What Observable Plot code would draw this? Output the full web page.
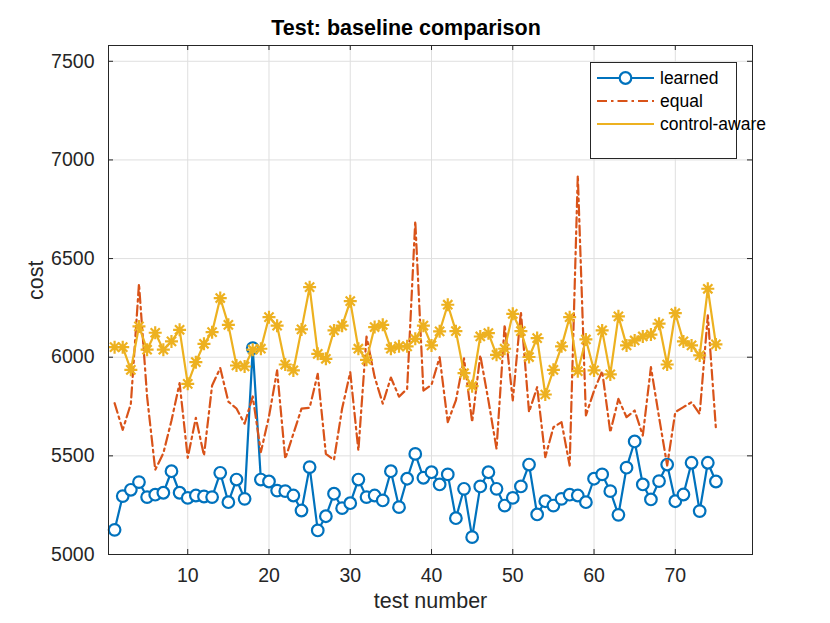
<!DOCTYPE html>
<html><head><meta charset="utf-8">
<script src="https://cdn.jsdelivr.net/npm/d3@7"></script>
<script src="https://cdn.jsdelivr.net/npm/@observablehq/plot@0.6"></script>
<style>
body{margin:0;background:#fff;}
#wrap{position:relative;width:830px;height:623px;font-family:"Liberation Sans",Arial,sans-serif;background:#fff;}
#title{position:absolute;left:84px;width:644px;top:16px;line-height:24px;text-align:center;font-weight:bold;font-size:21.5px;color:#000;}
#legend{position:absolute;left:590px;top:62px;width:145px;height:95px;border:1px solid #262626;background:#fff;}
#legend svg{overflow:visible;display:block;}
</style></head><body><div id="wrap"><div id="legend"></div><div id="title">Test: baseline comparison</div></div>
<script>
const testNumber = d3.range(1, 76);
const learned = [5125,5296,5328,5367,5291,5303,5313,5422,5313,5287,5299,5294,5291,5414,5265,5380,5282,6046,5380,5370,5324,5321,5299,5223,5443,5122,5194,5308,5235,5260,5380,5291,5299,5274,5422,5240,5384,5510,5389,5417,5355,5406,5184,5333,5088,5345,5417,5333,5248,5287,5345,5456,5203,5270,5248,5282,5303,5299,5265,5384,5406,5321,5201,5440,5573,5355,5279,5372,5456,5270,5304,5465,5220,5465,5370];
const equal = [5767,5632,5764,6372,5800,5429,5514,5679,5869,5490,5693,5502,5857,5945,5775,5740,5663,5801,5519,5700,5933,5485,5612,5739,5744,5916,5510,5480,5740,5924,5527,6105,5900,5765,5897,5800,5840,6690,5831,5860,6000,5671,5781,5994,5671,6010,5781,5536,6165,5781,6230,5722,5848,5493,5645,5671,5451,6922,5705,5830,5930,5620,5789,5696,5730,5603,5950,5696,5451,5722,5747,5772,5713,6212,5637];
const controlAware = [6051,6051,5936,6156,6038,6124,6038,6080,6139,5865,5975,6068,6127,6300,6164,5958,5953,6038,6043,6203,6160,5963,5933,6141,6355,6017,5992,6136,6160,6284,6043,5987,6153,6164,6043,6055,6055,6093,6160,6060,6131,6266,6132,5919,5853,6105,6122,6012,6043,6220,6132,6001,6097,5811,5936,6055,6203,5929,6090,5933,6136,5913,6207,6060,6085,6105,6115,6170,5963,6223,6080,6060,6009,6347,6065];
const xTicks = [10,20,30,40,50,60,70];
const yTicks = [5000,5500,6000,6500,7000,7500];
const seriesNames = ["learned","equal","control-aware"];
const seriesColors = ["#0072BD","#D95319","#EDB120"];

const W = 830, H = 623, mL = 108, mR = 78, mT = 45, mB = 69;
const fw = W - mL - mR, fh = H - mT - mB;
const ink = "#262626";
const dashDot = "10,4,2.5,4";
const font = '"Liberation Sans", Arial, sans-serif';

const rowsL = testNumber.map((t, i) => ({t, v: learned[i]}));
const rowsE = testNumber.map((t, i) => ({t, v: equal[i]}));
const rowsC = testNumber.map((t, i) => ({t, v: controlAware[i]}));

const asterisk = {
  draw(ctx, size) {
    const r = Math.sqrt(size / Math.PI);
    for (let k = 0; k < 4; k++) {
      const a = k * Math.PI / 4, dx = r * Math.cos(a), dy = r * Math.sin(a);
      ctx.moveTo(-dx, -dy); ctx.lineTo(dx, dy);
    }
  }
};

const chart = Plot.plot({
  width: W, height: H,
  marginLeft: mL, marginRight: mR, marginTop: mT, marginBottom: mB,
  style: {fontFamily: font, fontSize: "19.5px", color: ink, background: "#fff", overflow: "visible"},
  x: {domain: [0.25, 79.5]},
  y: {domain: [5000, 7580]},
  marks: [
    Plot.gridX(xTicks, {stroke: "#dfdfdf", strokeOpacity: 1}),
    Plot.gridY(yTicks, {stroke: "#dfdfdf", strokeOpacity: 1}),
    Plot.line(rowsL, {x: "t", y: "v", stroke: seriesColors[0], strokeWidth: 2.2}),
    Plot.dot(rowsL, {x: "t", y: "v", r: 5.8, stroke: seriesColors[0], fill: "#fff", strokeWidth: 2.2}),
    Plot.line(rowsE, {x: "t", y: "v", stroke: seriesColors[1], strokeWidth: 2.2, strokeDasharray: dashDot}),
    Plot.line(rowsC, {x: "t", y: "v", stroke: seriesColors[2], strokeWidth: 2.2}),
    Plot.dot(rowsC, {x: "t", y: "v", r: 6.5, symbol: asterisk, stroke: seriesColors[2], fill: "none", strokeWidth: 2.2}),
    Plot.frame({stroke: ink, strokeWidth: 1}),
    Plot.tickX(xTicks, {x: d => d, insetTop: fh - 5, stroke: ink}),
    Plot.tickX(xTicks, {x: d => d, insetBottom: fh - 5, stroke: ink}),
    Plot.tickY(yTicks, {y: d => d, insetRight: fw - 5, stroke: ink}),
    Plot.tickY(yTicks, {y: d => d, insetLeft: fw - 5, stroke: ink}),
    Plot.axisX(xTicks, {tickSize: 0, tickPadding: 14, label: null, fontSize: 19.5, tickFormat: d => String(d)}),
    Plot.axisY(yTicks, {tickSize: 0, tickPadding: 14, label: null, fontSize: 19.5, tickFormat: d => String(d)}),
    Plot.text(["test number"], {frameAnchor: "bottom", dy: 53, fontSize: 21.5, fill: ink}),
    Plot.text(["cost"], {frameAnchor: "left", dx: -72, rotate: -90, fontSize: 21.5, fill: ink})
  ]
});
document.getElementById("wrap").prepend(chart);
chart.style.position = "absolute"; chart.style.left = "0"; chart.style.top = "0";

// legend
const lg = d3.select("#legend").append("svg").attr("width", 145).attr("height", 95);
const rowsY = [15, 38, 61];
seriesNames.forEach((name, i) => {
  const g = lg.append("g").attr("transform", `translate(0,${rowsY[i]})`);
  const ln = g.append("line").attr("x1", 6).attr("x2", 63).attr("y1", 0).attr("y2", 0)
    .attr("stroke", seriesColors[i]).attr("stroke-width", 2.2);
  if (i === 1) ln.attr("stroke-dasharray", dashDot);
  if (i === 0) g.append("circle").attr("cx", 34.5).attr("cy", 0).attr("r", 5.8)
    .attr("fill", "#fff").attr("stroke", seriesColors[i]).attr("stroke-width", 2.2);
  g.append("text").attr("x", 69).attr("y", 0).attr("dy", "0.35em")
    .attr("font-size", 17.5).attr("fill", "#000")
    .attr("font-family", font).text(name);
});
</script></body></html>
